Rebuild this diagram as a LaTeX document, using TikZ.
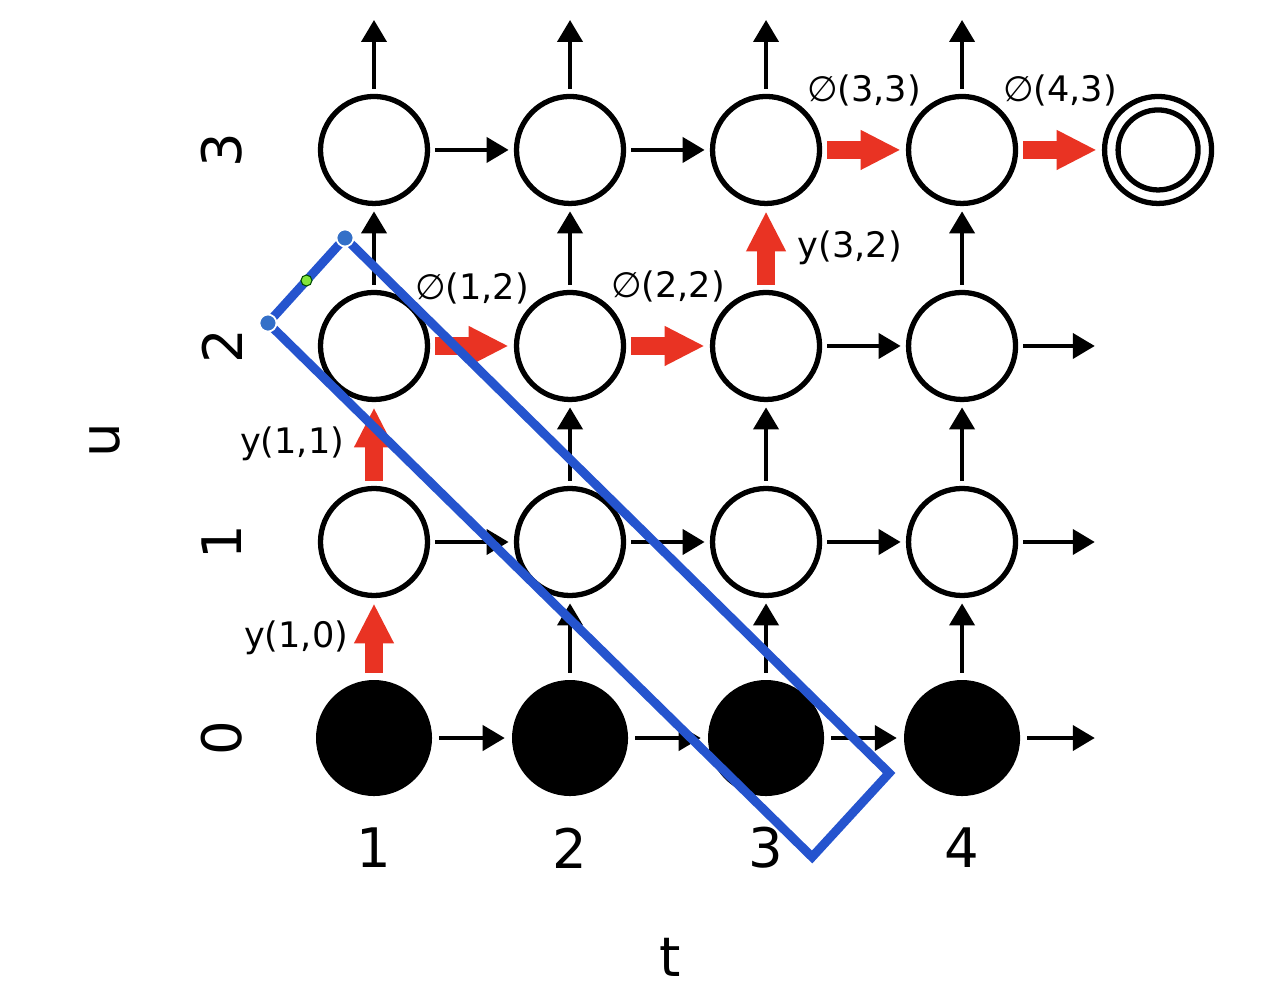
\documentclass[tikz,border=0pt]{standalone}
\usepackage{fontspec}
\setmainfont{DejaVu Sans}
\usepackage{xcolor}
\usetikzlibrary{calc,arrows.meta}
\definecolor{rutarojo}{RGB}{233,51,35}
\definecolor{marcoazul}{RGB}{37,84,206}
\definecolor{asaazul}{RGB}{52,112,200}
\definecolor{asaverde}{RGB}{130,230,60}

\begin{document}
\begin{tikzpicture}[x=3.92cm, y=3.92cm, line width=2.3pt,
    estado/.style={circle, draw, line width=3pt, fill=white, minimum size=2.14cm, inner sep=0pt},
    inicio/.style={circle, fill=black, minimum size=2.32cm, inner sep=0pt},
    paso/.style={line width=2.3pt, shorten <=3pt, shorten >=3pt, -{Triangle[length=0.44cm,width=0.5cm]}},
    ruta/.style={rutarojo, line width=10pt, shorten <=3pt, shorten >=3pt, -{Triangle[length=0.8cm,width=0.74cm]}},
    etiq/.style={black, font=\fontsize{20pt}{24pt}\selectfont, inner sep=0pt},
    eje/.style={font=\fontsize{31pt}{36pt}\selectfont, inner sep=0pt}]
    \useasboundingbox (-0.908,-1.347) rectangle (5.622,3.765);
    % estados de la rejilla
    \foreach \t in {1,...,4}{
        \node[inicio] (n\t0) at (\t,0) {};
        \foreach \u in {1,2,3}
            \node[estado] (n\t\u) at (\t,\u) {};
        \coordinate (arr\t) at (\t,3.69);
    }
    \node[estado] (fin) at (5,3) {};
    \draw[line width=3pt] (fin) circle (0.8cm);
    \foreach \u in {0,1,2}
        \coordinate (der\u) at (4.704,\u);
    % flechas negras
    \foreach \a/\b in {n10/n20,n20/n30,n30/n40,n11/n21,n21/n31,n31/n41,n32/n42,n13/n23,n23/n33,
                       n20/n21,n30/n31,n40/n41,n21/n22,n31/n32,n41/n42,n12/n13,n22/n23,n42/n43,
                       n40/der0,n41/der1,n42/der2,n13/arr1,n23/arr2,n33/arr3,n43/arr4}
        \draw[paso] (\a) -- (\b);
    % camino rojo
    \draw[ruta] (n10) -- (n11) node[midway, etiq, anchor=east, xshift=-0.34cm]{y(1,0)};
    \draw[ruta] (n11) -- (n12) node[midway, etiq, anchor=east, xshift=-0.42cm]{y(1,1)};
    \draw[ruta] (n12) -- (n22) node[midway, etiq, yshift=1.15cm]{∅(1,2)};
    \draw[ruta] (n22) -- (n32) node[midway, etiq, yshift=1.19cm]{∅(2,2)};
    \draw[ruta] (n32) -- (n33) node[midway, etiq, anchor=west, xshift=0.46cm]{y(3,2)};
    \draw[ruta] (n33) -- (n43) node[midway, etiq, yshift=1.19cm]{∅(3,3)};
    \draw[ruta] (n43) -- (fin) node[midway, etiq, yshift=1.19cm]{∅(4,3)};
    % ejes
    \foreach \t in {1,...,4}
        \node[eje] (tt\t) at (\t,-0.56) {\t};
    \foreach \u in {0,...,3}
        \node[eje, rotate=90] (uu\u) at (0.224,\u) {\u};
    \node[eje] (ejet) at (2.51,-1.12) {t};
    \node[eje, rotate=90] (ejeu) at (-0.372,1.52) {u};
    % marco de seleccion
    \coordinate (s1) at (0.852,2.551);
    \coordinate (s2) at (0.459,2.117);
    \coordinate (s3) at (3.235,-0.607);
    \coordinate (s4) at (3.628,-0.179);
    \draw[marcoazul, line width=5.1pt] (s1) -- (s2) -- (s3) -- (s4) -- cycle;
    \filldraw[fill=asaazul, draw=white, line width=1pt] (s1) circle (0.17cm);
    \filldraw[fill=asaazul, draw=white, line width=1pt] (s2) circle (0.17cm);
    \filldraw[fill=asaverde, draw=black!70!green, line width=0.6pt] ($(s1)!0.5!(s2)$) circle (0.11cm);
\end{tikzpicture}
\end{document}
